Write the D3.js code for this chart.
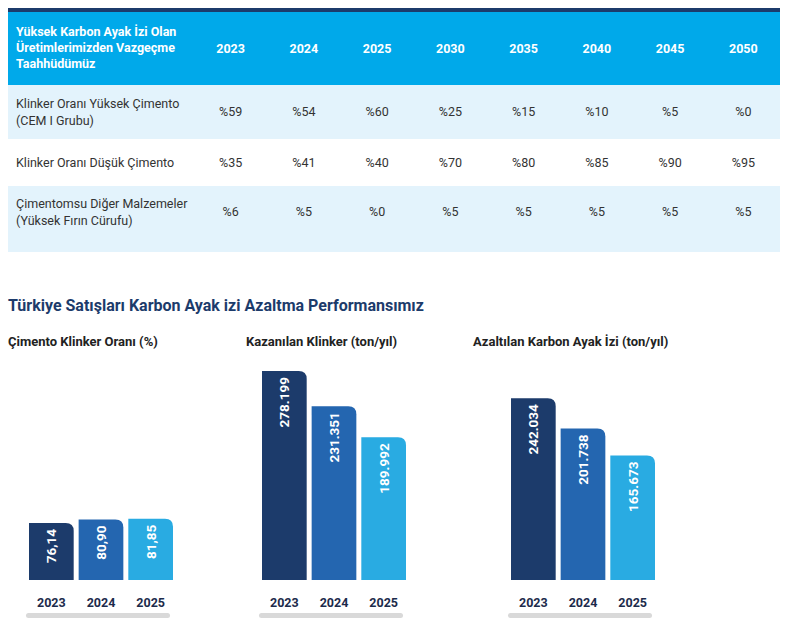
<!DOCTYPE html>
<html><head><meta charset="utf-8">
<script src="https://cdn.jsdelivr.net/npm/d3@7"></script>
<style>body{margin:0;background:#fff;font-family:"Open Sans",sans-serif}</style>
</head><body><svg width="790" height="633"></svg>
<script>
const tableYears = ["2023","2024","2025","2030","2035","2040","2045","2050"];
const tableHeader = ["Yüksek Karbon Ayak İzi Olan", "Üretimlerimizden Vazgeçme", "Taahhüdümüz"];
const rowLabels = [["Klinker Oranı Yüksek Çimento", "(CEM I Grubu)"], ["Klinker Oranı Düşük Çimento"], ["Çimentomsu Diğer Malzemeler", "(Yüksek Fırın Cürufu)"]];
const rowValues = [
  ["%59","%54","%60","%25","%15","%10","%5","%0"],
  ["%35","%41","%40","%70","%80","%85","%90","%95"],
  ["%6","%5","%0","%5","%5","%5","%5","%5"]
];
const barYears = ["2023","2024","2025"];
const clinkerRatio = [76.14, 80.90, 81.85];
const clinkerRatioLabels = ["76,14","80,90","81,85"];
const savedClinker = [278199, 231351, 189992];
const savedClinkerLabels = ["278.199","231.351","189.992"];
const reducedCarbon = [242034, 201738, 165673];
const reducedCarbonLabels = ["242.034","201.738","165.673"];

const svg = d3.select("svg");
const dark = "#1c3b6b", mid = "#2466b0", light = "#29abe2";

// table
svg.append("rect").attr("x", 8).attr("y", 8).attr("width", 772).attr("height", 4).attr("fill", dark);
svg.append("rect").attr("x", 8).attr("y", 12).attr("width", 772).attr("height", 73).attr("fill", "#00a9ea");
const rowY = [[85, 54], [139, 47], [186, 66]];
rowY.forEach(([y, h], i) => {
  if (i !== 1) svg.append("rect").attr("x", 8).attr("y", y).attr("width", 772).attr("height", h).attr("fill", "#e3f3fc");
});
const col = d3.scaleBand().domain(tableYears).range([194, 780]);
svg.append("text").attr("font-family", "Roboto").attr("font-weight", "bold").attr("font-size", 12.5).attr("fill", "#fff")
  .selectAll("tspan").data(tableHeader).join("tspan").attr("x", 16).attr("y", (d, i) => 36 + i * 16).text(d => d);
svg.selectAll(".yh").data(tableYears).join("text").attr("class", "yh")
  .attr("x", d => col(d) + col.bandwidth() / 2).attr("y", 53).attr("text-anchor", "middle")
  .attr("font-family", "Roboto").attr("font-weight", "bold").attr("font-size", 12.5).attr("fill", "#fff").text(d => d);
rowLabels.forEach((lines, i) => {
  const [y, h] = rowY[i];
  const cy = i === 2 ? y + 26 : y + h / 2;
  const t = svg.append("text").attr("font-family", "Roboto").attr("font-size", 12.5).attr("fill", "#333");
  lines.forEach((l, j) => t.append("tspan").attr("x", 16).attr("y", cy + 4 + (j - (lines.length - 1) / 2) * 17).text(l));
  svg.selectAll(".v" + i).data(rowValues[i]).join("text")
    .attr("x", (d, k) => col(tableYears[k]) + col.bandwidth() / 2).attr("y", cy + 4)
    .attr("text-anchor", "middle").attr("font-family", "Roboto").attr("font-size", 12.5).attr("fill", "#333").text(d => d);
});

// section title
svg.append("text").attr("x", 8).attr("y", 311).attr("font-family", "Roboto").attr("font-weight", "bold")
  .attr("font-size", 16).attr("fill", "#1c3b6b").text("Türkiye Satışları Karbon Ayak izi Azaltma Performansımız");

const y = d3.scaleLinear().domain([0, 278199]).range([0, 209]);
const yPct = d3.scaleLinear().domain([0, 76.14]).range([0, 57]);
const colors = [dark, mid, light];
const baseY = 580;

function panel(x0, title, values, labels, scale, tx) {
  svg.append("text").attr("x", tx).attr("y", 346).attr("font-family", "Roboto").attr("font-weight", "bold")
    .attr("font-size", 13).attr("fill", "#222").text(title);
  const xb = d3.scaleBand().domain(barYears).range([x0, x0 + 144]).paddingInner(0.1);
  const w = xb.bandwidth(), r = 8;
  barYears.forEach((yr, i) => {
    const h = scale(values[i]), x = xb(yr), top = baseY - h;
    svg.append("path").attr("fill", colors[i])
      .attr("d", `M${x},${baseY}V${top}H${x + w - r}Q${x + w},${top} ${x + w},${top + r}V${baseY}Z`);
    svg.append("text").attr("transform", `translate(${x + w / 2 + 5},${top + 6}) rotate(-90)`)
      .attr("text-anchor", "end").attr("font-family", "Roboto").attr("font-weight", "bold")
      .attr("font-size", 13.5).attr("fill", "#fff").text(labels[i]);
    svg.append("text").attr("x", x + w / 2).attr("y", 607).attr("text-anchor", "middle")
      .attr("font-family", "Roboto").attr("font-weight", "bold").attr("font-size", 12.5).attr("fill", "#1c2b4b").text(yr);
  });
  svg.append("rect").attr("x", x0 - 3).attr("y", 613).attr("width", 144).attr("height", 5).attr("rx", 2.5).attr("fill", "#d9d9d9");
}
panel(29, "Çimento Klinker Oranı (%)", clinkerRatio, clinkerRatioLabels, yPct, 8);
panel(262, "Kazanılan Klinker (ton/yıl)", savedClinker, savedClinkerLabels, y, 246);
panel(511, "Azaltılan Karbon Ayak İzi (ton/yıl)", reducedCarbon, reducedCarbonLabels, y, 473);
</script></body></html>
